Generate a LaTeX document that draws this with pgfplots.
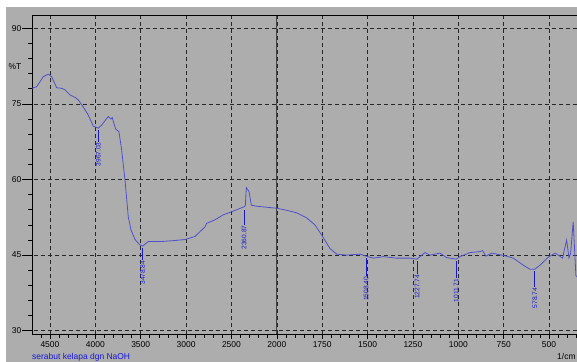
\documentclass[border=0pt]{standalone}
\usepackage{pgfplots}
\pgfplotsset{compat=1.18}
\usepackage{fontspec}
\setmainfont{Liberation Sans}
\definecolor{bg}{RGB}{173,173,173}
\definecolor{curve}{RGB}{80,80,205}
\definecolor{lab}{RGB}{25,25,200}
\definecolor{capblue}{RGB}{20,20,225}
\pgfplotstableread{
v T
4698 78.1
4647 78.4
4574 80.4
4519 80.9
4481 80.4
4426 78.2
4371 78.1
4335 77.8
4280 76.8
4224 76.3
4188 75.8
4133 74.4
4078 72.8
4023 70.6
3967 70.2
3930 70.8
3858 72.5
3828 72.0
3814 72.3
3776 70.0
3740 69.5
3710 65.9
3692 62.9
3673 59.9
3637 52.6
3607 50.0
3563 48.1
3508 47.0
3479 46.8
3416 47.7
3270 47.7
3122 47.9
3012 48.1
2902 48.7
2792 50.6
2774 51.3
2682 52.0
2590 53.0
2498 53.6
2388 54.4
2361 54.6
2347 54.8
2336 58.4
2306 57.6
2281 54.9
2222 54.7
2112 54.5
2002 54.3
1946 53.9
1891 53.4
1836 52.4
1790 51.0
1753 49.0
1707 46.3
1670 45.2
1615 45.0
1542 45.2
1508 44.8
1469 44.4
1413 44.7
1340 44.4
1266 44.4
1228 44.2
1211 44.7
1184 45.5
1156 45.0
1101 45.4
1064 44.5
1012 44.2
991 44.7
936 45.5
881 45.7
866 45.9
848 44.8
816 45.4
789 45.2
734 44.8
697 44.4
642 43.0
605 42.2
579 42.2
550 43.0
504 44.6
467 45.4
449 45.0
425 44.4
416 46.0
403 48.0
390 44.4
381 45.4
367 51.6
352 40.9
346 40.7
}\spectrum
\begin{document}
\begin{tikzpicture}
\useasboundingbox (0,0) rectangle (577bp,-362bp);
\clip (0,0) rectangle (577bp,-362bp);
\fill[white] (0,0) rectangle (577bp,-362bp);
\fill[bg] (6bp,-7bp) rectangle (577bp,-362bp);
\begin{axis}[
  at={(32bp,-334bp)}, anchor=south west,
  width=545bp, height=319bp, scale only axis,
  x coord trafo/.code={\pgfmathparse{#1>2000 ? 2000+(#1-2000)/2 : #1}},
  x coord inv trafo/.code={\pgfmathparse{#1>2000 ? 2000+2*(#1-2000) : #1}},
  x dir=reverse,
  xmin=346, xmax=4698, ymin=29.35, ymax=92.64,
  clip=false,
  axis line style={draw=none},
  xtick={4500,4000,3500,3000,2500,2000,1750,1500,1250,1000,750,500},
  xticklabels={4500,4000,3500,3000,2500,2000,1750,1500,1250,1000,750,500},
  minor xtick={4600,4400,4300,4200,4100,3900,3800,3700,3600,3400,3300,3200,3100,2900,2800,2700,2600,2400,2300,2200,2100,1950,1900,1850,1800,1700,1650,1600,1550,1450,1400,1350,1300,1200,1150,1100,1050,950,900,850,800,700,650,600,550,450,400,350},
  ytick={30,45,60,75,90},
  minor ytick={33,36,39,42,48,51,54,57,63,66,69,72,78,81,84,87},
  tick align=outside,
  major tick length=4.5bp, minor tick length=3.5bp,
  tick style={black, line width=0.6bp},
  xtick pos=bottom, ytick pos=left,
  grid=major,
  major grid style={dash pattern=on 4bp off 3bp, black!85, line width=0.6bp},
  /pgf/number format/assume math mode=true,
  ticklabel style={font=\fontsize{8.5}{10}\selectfont, black},
  xticklabel style={anchor=north, inner sep=0pt, yshift=-3bp},
  yticklabel style={anchor=east, inner sep=0pt, xshift=-6bp},
]
\draw[gray!55!black, line width=1bp] (axis cs:2000,29.35) -- (axis cs:2000,92.64);
\draw[black, line width=0.8bp] (axis cs:4698,29.35) -- (axis cs:4698,92.64) -- (axis cs:346,92.64);
\draw[black, line width=0.8bp] (axis cs:4698,29.35) -- (axis cs:346,29.35);
\draw[black, line width=0.6bp] (axis cs:4698,30) -- ([xshift=-10bp]axis cs:4698,30);
\draw[black, line width=0.6bp] (axis cs:4698,45) -- ([xshift=-10bp]axis cs:4698,45);
\draw[black, line width=0.6bp] (axis cs:4698,60) -- ([xshift=-10bp]axis cs:4698,60);
\draw[black, line width=0.6bp] (axis cs:4698,75) -- ([xshift=-10bp]axis cs:4698,75);
\draw[black, line width=0.6bp] (axis cs:4698,90) -- ([xshift=-10bp]axis cs:4698,90);
\addplot[curve, line width=0.8bp] table[x=v, y=T] {\spectrum};
\tikzset{pk/.style={rotate=90, anchor=east, inner sep=0.4bp, font=\fontsize{6.6}{7}\selectfont, text=lab}}
\draw[lab, line width=0.6bp] (axis cs:3967.03,69.9) -- (axis cs:3967.03,67.5) node[pk] {3967.03};
\draw[lab, line width=0.6bp] (axis cs:3478.84,46.5) -- (axis cs:3478.84,44.0) node[pk] {3478.84};
\draw[lab, line width=0.6bp] (axis cs:2360.87,54.0) -- (axis cs:2360.87,51.0) node[pk] {2360.87};
\draw[lab, line width=0.6bp] (axis cs:1508.40,44.4) -- (axis cs:1508.40,40.8) node[pk] {1508.40};
\draw[lab, line width=0.6bp] (axis cs:1227.74,43.8) -- (axis cs:1227.74,41.2) node[pk] {1227.74};
\draw[lab, line width=0.6bp] (axis cs:1011.71,43.8) -- (axis cs:1011.71,40.4) node[pk] {1011.71};
\draw[lab, line width=0.6bp] (axis cs:578.74,41.8) -- (axis cs:578.74,38.6) node[pk] {578.74};
\end{axis}
\node[font=\fontsize{8.5}{10}\selectfont] at (15bp,-67bp) {\%T};
\node[anchor=west, inner sep=0pt, font=\fontsize{8.5}{10}\selectfont, text=capblue] at (32bp,-357bp) {serabut kelapa dgn NaOH};
\node[anchor=west, inner sep=0pt, font=\fontsize{8.5}{10}\selectfont] at (557bp,-356bp) {1/cm};
\end{tikzpicture}
\end{document}
